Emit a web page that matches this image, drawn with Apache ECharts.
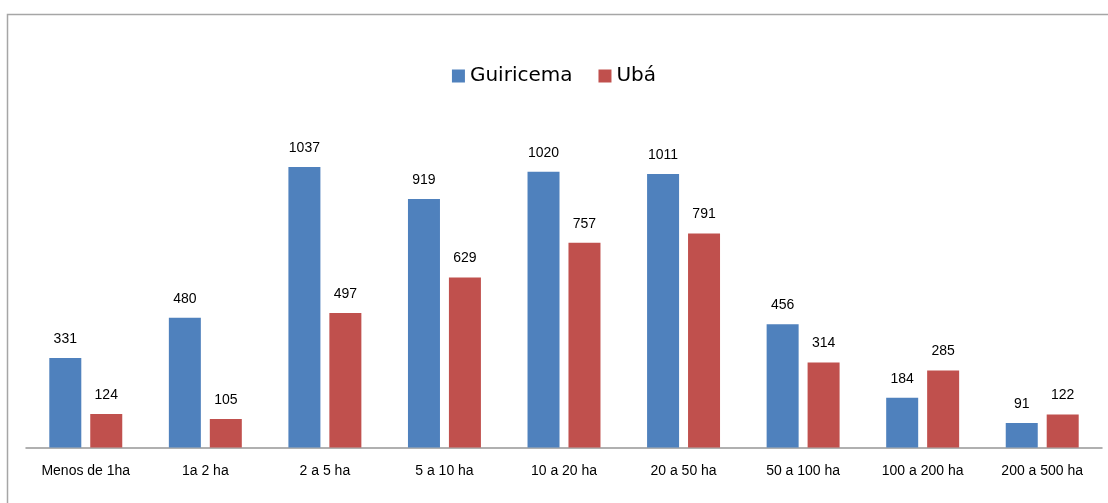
<!DOCTYPE html>
<html>
<head>
<meta charset="utf-8">
<script src="https://cdn.jsdelivr.net/npm/echarts@6/dist/echarts.min.js"></script>
<style>
    html, body { margin: 0; padding: 0; width: 100%; height: 100%; background: #fff; }
    #main { width: 1108px; height: 503px; }
</style>
</head>
<body>
<div id="main"></div>
<script>
    // categorias (tamanho da propriedade)
    var categories = ['Menos de 1ha', '1a 2 ha', '2 a 5 ha', '5 a 10 ha', '10 a 20 ha', '20 a 50 ha', '50 a 100 ha', '100 a 200 ha', '200 a 500 ha'];
    var guiricema = [331, 480, 1037, 919, 1020, 1011, 456, 184, 91];
    var uba = [124, 105, 497, 629, 757, 791, 314, 285, 122];

    var chart = echarts.init(document.getElementById('main'));

    var labelStyle = {
        show: true,
        position: 'top',
        distance: 12,
        color: '#000',
        fontFamily: 'Liberation Sans, Arial, sans-serif',
        fontSize: 14
    };

    chart.setOption({
        animation: false,
        textStyle: { fontFamily: 'Liberation Sans, Arial, sans-serif' },
        graphic: [{
            type: 'rect',
            shape: { x: 7.5, y: 14.5, width: 1200, height: 600 },
            style: { fill: 'none', stroke: '#a6a6a6', lineWidth: 1.5 },
            silent: true
        }],
        legend: {
            data: ['Guiricema', 'Ubá'],
            left: 'center',
            top: 61,
            itemWidth: 13,
            itemHeight: 13,
            itemGap: 26,
            icon: 'rect',
            textStyle: {
                fontSize: 20,
                color: '#000',
                fontFamily: 'DejaVu Sans, sans-serif'
            }
        },
        grid: {
            left: 26,
            right: 6,
            top: 123,
            bottom: 55.5,
            containLabel: false
        },
        xAxis: {
            type: 'category',
            data: categories,
            axisLine: { lineStyle: { color: '#969696', width: 1.5 } },
            axisTick: { show: false },
            axisLabel: {
                color: '#000',
                fontSize: 14,
                margin: 17,
                interval: 0
            }
        },
        yAxis: {
            type: 'value',
            min: 0,
            max: 1200,
            show: false,
            splitLine: { show: false }
        },
        series: [{
            name: 'Guiricema',
            type: 'bar',
            barWidth: 32,
            barGap: '28%',
            itemStyle: { color: '#4f81bd' },
            label: labelStyle,
            data: guiricema
        }, {
            name: 'Ubá',
            type: 'bar',
            barWidth: 32,
            itemStyle: { color: '#c0504d' },
            label: labelStyle,
            data: uba
        }]
    });
</script>
</body>
</html>
